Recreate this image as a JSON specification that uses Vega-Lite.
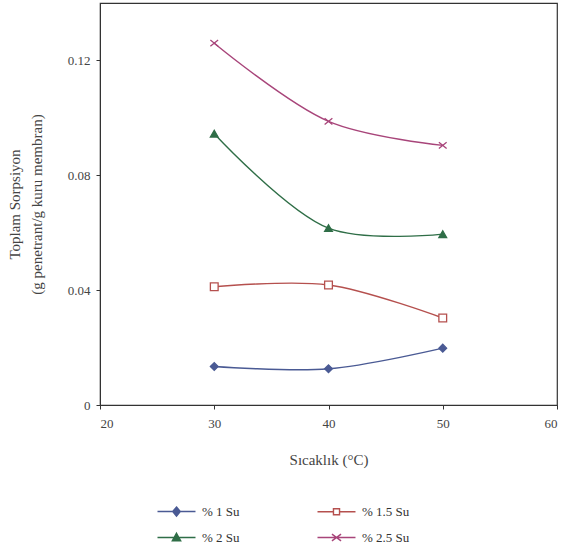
{
  "$schema": "https://vega.github.io/schema/vega-lite/v6.json",
  "autosize": "none",
  "width": 457,
  "height": 402,
  "padding": {"left": 100, "top": 3, "right": 6, "bottom": 146},
  "background": "white",
  "config": {
    "font": "Liberation Serif",
    "view": {"stroke": "#333", "strokeWidth": 1.2},
    "axis": {"grid": false, "domainColor": "#333", "tickColor": "#333", "labelColor": "#444", "titleColor": "#444", "labelFont": "Liberation Serif", "titleFont": "Liberation Serif", "titleFontWeight": "normal", "labelFontSize": 13, "titleFontSize": 15},
    "legend": {"labelFont": "Liberation Serif"}
  },
  "data": {
    "values": [
      {"t": 30, "s": 0.0134, "seri": "% 1 Su"},
      {"t": 40, "s": 0.0126, "seri": "% 1 Su"},
      {"t": 50, "s": 0.0198, "seri": "% 1 Su"},
      {"t": 30, "s": 0.0412, "seri": "% 1.5 Su"},
      {"t": 40, "s": 0.0418, "seri": "% 1.5 Su"},
      {"t": 50, "s": 0.0303, "seri": "% 1.5 Su"},
      {"t": 30, "s": 0.0945, "seri": "% 2 Su"},
      {"t": 40, "s": 0.0616, "seri": "% 2 Su"},
      {"t": 50, "s": 0.0595, "seri": "% 2 Su"},
      {"t": 30, "s": 0.126, "seri": "% 2.5 Su"},
      {"t": 40, "s": 0.0988, "seri": "% 2.5 Su"},
      {"t": 50, "s": 0.0904, "seri": "% 2.5 Su"}
    ]
  },
  "encoding": {
    "x": {"field": "t", "type": "quantitative", "scale": {"domain": [20, 60], "nice": false, "zero": false},
      "axis": {"values": [20, 30, 40, 50, 60], "title": "Sıcaklık (°C)", "tickSize": 4, "labelPadding": 8, "titlePadding": 22}},
    "y": {"field": "s", "type": "quantitative", "scale": {"domain": [0, 0.14], "nice": false},
      "axis": {"values": [0, 0.04, 0.08, 0.12], "labelExpr": "datum.value === 0 ? '0' : format(datum.value, '.2f')", "tickSize": 4, "labelPadding": 6,
        "title": ["Toplam Sorpsiyon", "(g penetrant/g kuru membran)"], "titleLineHeight": 22, "titlePadding": 23}}
  },
  "layer": [
    {
      "mark": {"type": "line", "interpolate": "catmull-rom", "strokeWidth": 1.4},
      "encoding": {
        "stroke": {"field": "seri", "type": "nominal",
          "scale": {"domain": ["% 1 Su", "% 1.5 Su", "% 2 Su", "% 2.5 Su"], "range": ["#4a5a94", "#b5504e", "#2f6e47", "#a8457a"]}, "legend": null}
      }
    },
    {
      "mark": {"type": "point", "size": 60, "strokeWidth": 1.3, "opacity": 1},
      "encoding": {
        "stroke": {"field": "seri", "type": "nominal",
          "scale": {"domain": ["% 1 Su", "% 1.5 Su", "% 2 Su", "% 2.5 Su"], "range": ["#4a5a94", "#b5504e", "#2f6e47", "#a8457a"]}, "legend": null},
        "fill": {"field": "seri", "type": "nominal",
          "scale": {"domain": ["% 1 Su", "% 1.5 Su", "% 2 Su", "% 2.5 Su"], "range": ["#4a5a94", "#ffffff", "#2f6e47", "transparent"]}, "legend": null},
        "shape": {"field": "seri", "type": "nominal",
          "scale": {"domain": ["% 1 Su", "% 1.5 Su", "% 2 Su", "% 2.5 Su"], "range": ["diamond", "square", "triangle-up", "M-1,-0.8L1,0.8M-1,0.8L1,-0.8"]}, "legend": null}
      }
    },
    {
      "mark": {"type": "point", "size": 0, "strokeWidth": 1.3, "opacity": 1},
      "encoding": {
        "stroke": {"field": "seri", "type": "nominal",
          "scale": {"domain": ["% 1 Su", "% 1.5 Su", "% 2 Su", "% 2.5 Su"], "range": ["#4a5a94", "#b5504e", "#2f6e47", "#a8457a"]},
          "legend": {"title": null, "orient": "none", "legendX": 68, "legendY": 500, "columns": 2, "direction": "horizontal", "columnPadding": 74, "rowPadding": 10, "symbolSize": 231, "labelOffset": 17, "labelFontSize": 13, "labelColor": "#333", "labelFont": "Liberation Serif", "symbolStrokeWidth": 1.4}},
        "fill": {"field": "seri", "type": "nominal",
          "scale": {"domain": ["% 1 Su", "% 1.5 Su", "% 2 Su", "% 2.5 Su"], "range": ["#4a5a94", "#ffffff", "#2f6e47", "transparent"]},
          "legend": {"title": null, "orient": "none", "legendX": 68, "legendY": 500, "columns": 2, "direction": "horizontal", "columnPadding": 74, "rowPadding": 10, "symbolSize": 231, "labelOffset": 17, "labelFontSize": 13, "labelColor": "#333", "labelFont": "Liberation Serif", "symbolStrokeWidth": 1.4}},
        "shape": {"field": "seri", "type": "nominal",
          "scale": {"domain": ["% 1 Su", "% 1.5 Su", "% 2 Su", "% 2.5 Su"], "range": [
            "M-2.5,0H2.5M0,-0.6L0.5,0L0,0.6L-0.5,0Z",
            "M-2.5,0H-0.4M0.4,0H2.5M-0.4,-0.4H0.4V0.4H-0.4Z",
            "M-2.5,0H2.5M0,-0.55L0.55,0.45L-0.55,0.45Z",
            "M-2.5,0H2.5M-0.6,-0.45L0.6,0.45M-0.6,0.45L0.6,-0.45"]},
          "legend": {"title": null, "orient": "none", "legendX": 68, "legendY": 500, "columns": 2, "direction": "horizontal", "columnPadding": 74, "rowPadding": 10, "symbolSize": 231, "labelOffset": 17, "labelFontSize": 13, "labelColor": "#333", "labelFont": "Liberation Serif", "symbolStrokeWidth": 1.4}}
      }
    }
  ],
  "resolve": {"scale": {"stroke": "independent", "fill": "independent", "shape": "independent"}}
}
